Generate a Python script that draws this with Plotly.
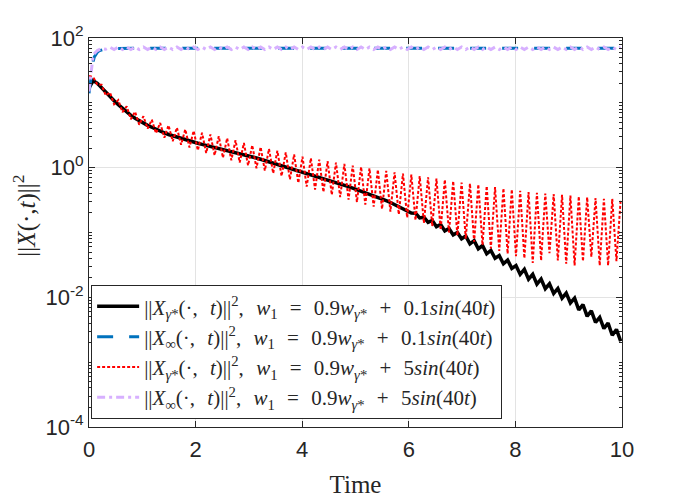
import plotly.graph_objects as go

# half-period sampling of sin(40t): dt = pi/40
DT = 0.07854

# ||X_gamma*||^2, w1 = 0.9 w + 0.1 sin(40t)
black_vals = [17, 22, 20, 17, 14.5, 12.5, 10.8, 9.4, 8.2, 7.2,
              6.4, 5.8, 5.3, 4.9, 4.5, 4.2, 3.9, 3.65, 3.45, 3.25,
              3.1, 2.95, 2.8, 2.68, 2.57, 2.47, 2.38, 2.29, 2.21, 2.13,
              2.06, 1.99, 1.92, 1.85, 1.79, 1.72, 1.66, 1.6, 1.53, 1.47,
              1.41, 1.35, 1.29, 1.24, 1.18, 1.13, 1.08, 1.03, 0.99, 0.95,
              0.9, 0.86, 0.82, 0.78, 0.745, 0.71, 0.68, 0.65, 0.62, 0.59,
              0.565, 0.535, 0.51, 0.485, 0.46, 0.44, 0.415, 0.395, 0.375, 0.355,
              0.335, 0.31, 0.29, 0.27, 0.25, 0.232, 0.215, 0.2, 0.198, 0.168,
              0.172, 0.143, 0.153, 0.123, 0.133, 0.106, 0.115, 0.092, 0.1, 0.08,
              0.088, 0.067, 0.075, 0.056, 0.063, 0.047, 0.053, 0.04, 0.044, 0.033,
              0.0375, 0.028, 0.031, 0.0226, 0.027, 0.019, 0.0226, 0.016, 0.0192, 0.0136,
              0.0162, 0.0115, 0.0137, 0.0097, 0.0116, 0.0082, 0.0097, 0.0064, 0.0077, 0.0051,
              0.0062, 0.0041, 0.0049, 0.0033, 0.004, 0.0026, 0.0032, 0.0021]

# ||X_inf||^2, w1 = 0.9 w + 0.1 sin(40t)
blue_t = [0, 0.02, 0.04, 0.06, 0.08, 0.1, 0.13, 0.16, 0.2, 0.25, 0.3, 0.4, 0.5,
          0.7, 1, 2, 3, 4, 5, 6, 7, 8, 9, 10]
blue_vals = [14, 19, 27, 36, 44, 51, 57, 61, 64, 66, 67.5, 68.5, 69,
             69.5, 69.8, 69.6, 69.8, 69.6, 69.8, 69.6, 69.8, 69.6, 69.8, 69.6]

# ||X_gamma*||^2, w1 = 0.9 w + 5 sin(40t)
red_vals = [26, 25, 19, 19, 13, 14.5, 9.5, 11, 7.2, 8.8,
            5.6, 7.3, 4.6, 6.2, 4.0, 5.5, 3.4, 4.9, 2.9, 4.5,
            2.55, 4.15, 2.25, 3.9, 2.05, 3.7, 1.85, 3.45, 1.68, 3.25,
            1.55, 3.05, 1.42, 2.85, 1.3, 2.65, 1.2, 2.4, 1.08, 2.22,
            0.98, 2.08, 0.9, 1.95, 0.82, 1.83, 0.74, 1.72, 0.66, 1.6,
            0.58, 1.48, 0.51, 1.4, 0.46, 1.33, 0.42, 1.26, 0.38, 1.2,
            0.35, 1.14, 0.32, 1.08, 0.295, 1.03, 0.27, 0.98, 0.25, 0.93,
            0.23, 0.89, 0.21, 0.85, 0.19, 0.81, 0.17, 0.78, 0.155, 0.74,
            0.14, 0.71, 0.125, 0.68, 0.11, 0.65, 0.1, 0.62, 0.09, 0.59,
            0.08, 0.57, 0.072, 0.55, 0.064, 0.52, 0.057, 0.5, 0.052, 0.48,
            0.047, 0.46, 0.043, 0.44, 0.04, 0.42, 0.034, 0.41, 0.037, 0.4,
            0.048, 0.39, 0.037, 0.38, 0.033, 0.37, 0.031, 0.36, 0.036, 0.35,
            0.042, 0.34, 0.031, 0.33, 0.031, 0.33, 0.036, 0.32]

# ||X_inf||^2, w1 = 0.9 w + 5 sin(40t)
purple_vals = [15, 55, 64, 69, 67, 72, 66.5, 72.5, 66.5, 72.5,
               66.5, 72.5, 66.5, 72.5, 66.5, 72.5, 66.5, 72.5, 66.5, 72.5,
               66.5, 72.5, 66.5, 72.5, 66.5, 72.5, 66.5, 72.5, 66.5, 72.5,
               66.5, 72.5, 66.5, 72.5, 66.5, 72.5, 66.5, 72.5, 66.5, 72.5,
               66.5, 72.5, 66.5, 72.5, 66.5, 72.5, 66.5, 72.5, 66.5, 72.5,
               66.5, 72.5, 66.5, 72.5, 66.5, 72.5, 66.5, 72.5, 66.5, 72.5,
               66.5, 72.5, 66.5, 72.5, 66.5, 72.5, 66.5, 72.5, 66.5, 72.5,
               66.5, 72.5, 66.5, 72.5, 66.5, 72.5, 66.5, 72.5, 66.5, 72.5,
               66.5, 72.5, 66.5, 72.5, 66.5, 72.5, 66.5, 72.5, 66.5, 72.5,
               66.5, 72.5, 66.5, 72.5, 66.5, 72.5, 66.5, 72.5, 66.5, 72.5,
               66.5, 72.5, 66.5, 72.5, 66.5, 72.5, 66.5, 72.5, 66.5, 72.5,
               66.5, 72.5, 66.5, 72.5, 66.5, 72.5, 66.5, 72.5, 66.5, 72.5,
               66.5, 72.5, 66.5, 72.5, 66.5, 72.5, 66.5, 72.5]

x_ticks = [0, 2, 4, 6, 8, 10]
y_ticks = [1e-4, 1e-2, 1, 1e2]
y_ticktext = ['10<sup>-4</sup>', '10<sup>-2</sup>', '10<sup>0</sup>', '10<sup>2</sup>']

sp = '\u2002\u200a'
names = [f'||<i>X</i><sub><i>γ</i>*</sub>(·,{sp}<i>t</i>)||<sup>2</sup>,{sp}<i>w</i><sub>1</sub>{sp}={sp}0.9<i>w</i><sub><i>γ</i>*</sub>{sp}+{sp}0.1<i>sin</i>(40<i>t</i>)',
         f'||<i>X</i><sub>∞</sub>(·,{sp}<i>t</i>)||<sup>2</sup>,{sp}<i>w</i><sub>1</sub>{sp}={sp}0.9<i>w</i><sub><i>γ</i>*</sub>{sp}+{sp}0.1<i>sin</i>(40<i>t</i>)',
         f'||<i>X</i><sub><i>γ</i>*</sub>(·,{sp}<i>t</i>)||<sup>2</sup>,{sp}<i>w</i><sub>1</sub>{sp}={sp}0.9<i>w</i><sub><i>γ</i>*</sub>{sp}+{sp}5<i>sin</i>(40<i>t</i>)',
         f'||<i>X</i><sub>∞</sub>(·,{sp}<i>t</i>)||<sup>2</sup>,{sp}<i>w</i><sub>1</sub>{sp}={sp}0.9<i>w</i><sub><i>γ</i>*</sub>{sp}+{sp}5<i>sin</i>(40<i>t</i>)']

fig = go.Figure()
fig.add_trace(go.Scatter(y=black_vals, x0=0, dx=DT, mode='lines', name=names[0],
                         line=dict(color='black', width=3.5)))
fig.add_trace(go.Scatter(x=blue_t, y=blue_vals, mode='lines', name=names[1],
                         line=dict(color='#0072BD', width=3, dash='16px,16px')))
fig.add_trace(go.Scatter(y=red_vals, x0=0, dx=DT, mode='lines', name=names[2],
                         line=dict(color='#FF0000', width=2, dash='3px,2px')))
fig.add_trace(go.Scatter(y=purple_vals, x0=0, dx=DT, mode='lines', name=names[3],
                         line=dict(color='#D7B0FF', width=3, dash='8px,4px,3px,4px')))

minor_y = [m * 10.0 ** e for e in range(-4, 2) for m in range(2, 10)] + [1e-3, 1e-1, 10]

axis_common = dict(showline=True, linecolor='#262626', linewidth=1, mirror='ticks',
                   ticks='inside', ticklen=6, tickcolor='#262626', automargin=False,
                   showgrid=True, gridcolor='#E3E3E3', gridwidth=1, zeroline=False,
                   tickfont=dict(family='Liberation Sans, Arial', size=22, color='#262626'))

fig.update_xaxes(range=[0, 10], tickvals=x_ticks, ticklabelstandoff=3,
                 title=dict(text='Time', font=dict(family='Liberation Serif, serif', size=25, color='#262626'),
                            standoff=14),
                 **axis_common)
fig.update_yaxes(type='log', range=[-4, 2], tickvals=y_ticks, ticktext=y_ticktext,
                 minor=dict(tickvals=minor_y, ticks='inside', ticklen=3, tickcolor='#262626', showgrid=False),
                 **axis_common)

# y label sits a bit above the axis centre in the original
fig.add_annotation(text='||<i>X</i>(·,<i>t</i>)||<sup>2</sup>', textangle=-90,
                   xref='paper', yref='paper', x=-0.121, y=0.542,
                   xanchor='center', yanchor='middle', showarrow=False,
                   font=dict(family='Liberation Serif, serif', size=25, color='#262626'))

# page body adds 8px offset, so margins are shifted to land the axes in place
fig.update_layout(width=688, height=501,
                  margin=dict(l=81, r=74, t=30, b=82),
                  plot_bgcolor='white', paper_bgcolor='white',
                  legend=dict(x=0.004, y=0.02, xanchor='left', yanchor='bottom',
                              bgcolor='white', bordercolor='#262626', borderwidth=1,
                              font=dict(family='Liberation Serif, serif', size=21, color='#262626'),
                              itemwidth=42, tracegroupgap=0))

fig.write_html("out.html")
